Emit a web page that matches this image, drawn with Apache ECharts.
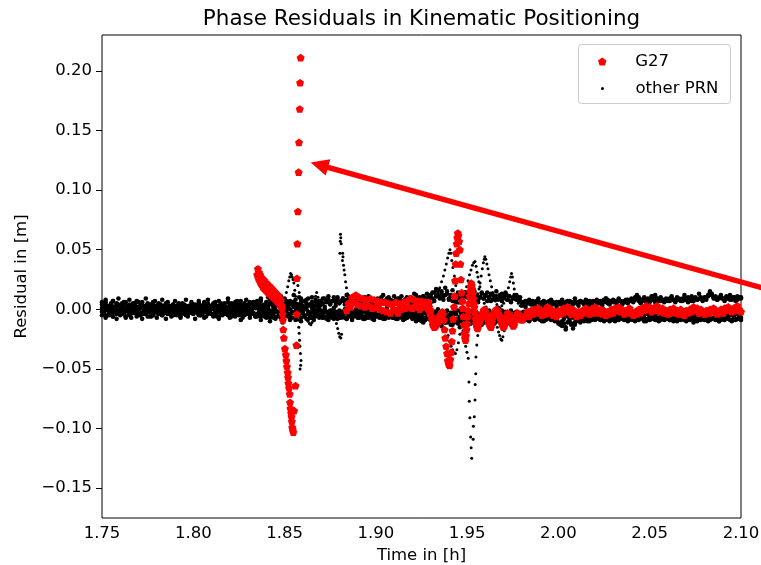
<!DOCTYPE html>
<html><head><meta charset="utf-8">
<script src="https://cdn.jsdelivr.net/npm/echarts@6/dist/echarts.min.js"></script>
<style>html,body{margin:0;padding:0;background:#fff}#c{width:761px;height:565px}</style>
</head><body><div id="c"></div>
<script>
// ---------- data (residuals in millimetres, time in hours) ----------
const T_START = 1.75, T_STEP = 0.001;           // epoch grid of the PRN tracks
const xTicks = [1.75, 1.80, 1.85, 1.90, 1.95, 2.00, 2.05, 2.10];
const yTicks = [-0.15, -0.10, -0.05, 0.00, 0.05, 0.10, 0.15, 0.20];

// other PRN, full-span tracks (351 epochs, 1.750 ... 2.100)
const prnA = [
 4,2,6,3,1,5,7,2,4,3, 0,5,3,6,2,4,1,3,5,2, 6,3,4,1,2,5,3,4,6,2, 3,1,4,2,3,5,2,3,1,4,
 2,3,5,1,2,4,3,2,3,1, 4,2,3,5,3,1,4,2,5,3, 2,4,6,3,2,5,3,4,2,6, 3,5,2,4,7,3,4,2,5,3, 4,6,3,5,2,
 5,3,7,2,4,6,3,8,4,2, 5,7,3,6,4,9,5,3,7,4, 6,8,4,10,6,3,7,5,9,4, 6,3,8,5,7,
 7,5,9,6,8,4,7,10,6,8, 5,7,9,6,8,11,7,5,8,6, 9,7,5,8,10,6,7,9,5,8, 6,8,7,10,5,7,9,6,8,7,
 11,8,6,9,7,5,8,10,7,6, 9,8,12,7,10,8,11,9,13,10,
 12,9,14,11,16,10,13,8,12,15, 9,11,7,10,6,9,12,8,11,14, 10,13,9,12,15,11,8,10,13,9,
 11,14,10,7,12,9,11,8,10,13, 9,12,8,11,7,10,9,12,8,10,
 6,5,7,6,5,6,4,5,7,6, 5,6,5,4,6,7,5,6,5,6, 5,6,7,5,6,5,7,6,5,6, 6,5,7,6,6,5,6,7,6,5,
 6,7,6,5,7,8,9,8,6,7, 6,7,6,8,7,6,7,6,8,7, 7,8,10,12,10,8,7,9,8,7, 6,8,11,12,9,8,7,8,7,8,
 8,7,9,8,7,8,9,8,7,8, 9,10,8,7,8,9,8,9,10,8, 9,10,12,14,12,10,9,8,9,10, 9,8,10,9,8,9,10,9,8,10,9
];
const prnB = [
 -2,-4,-1,-5,-3,0,-6,-2,-4,-3, -5,-1,-3,-6,-2,-4,-7,-3,-1,-4, -2,-5,-3,-1,-4,-6,-2,-3,-5,-1,
 -3,-4,-2,-5,-3,-1,-4,-2,-3,-5, -2,-3,-1,-4,-2,-3,-5,-2,-1,-3, -4,-2,-3,-5,-1,-4,-2,-6,-3,-1,
 -4,-5,-2,-3,-6,-1,-4,-3,-2,-5, -3,-6,-2,-4,-1,-5,-3,-7,-2,-4, -3,-5,-1,-4,-6,
 -4,-2,-6,-3,-5,-1,-4,-7,-3,-5, -2,-6,-4,-8,-3,-5,-2,-6,-4,-7, -3,-9,-5,-4,-7,-3,-6,-8,-4,-5, -7,-3,-6,-4,-5,
 -5,-7,-6,-8,-5,-6,-7,-4,-6,-8, -7,-5,-6,-7,-8,-6,-5,-7,-6,-4, -6,-7,-5,-8,-6,-7,-5,-6,-8,-7,
 -6,-5,-7,-6,-8,-5,-6,-7,-5,-6, -7,-8,-6,-5,-7,-6,-8,-7,-5,-6, -7,-6,-8,-9,-7,-10,-8,-9,-7,-8,
 -9,-7,-11,-8,-6,-10,-12,-8,-9,-7, -10,-13,-9,-11,-8,-12,-10,-7,-9,-11, -8,-10,-12,-9,-7,-11,-8,-10,-13,-9,
 -11,-8,-10,-7,-9,-12,-10,-8,-11,-9, -7,-10,-8,-11,-9,-8,-10,-7,-9,-8,
 -8,-7,-9,-8,-10,-8,-7,-9,-8,-7, -9,-8,-10,-9,-8,-7,-9,-8,-10,-9,
 -11,-13,-10,-12,-15,-11,-9,-12,-16,-13, -10,-9,-11,-8,-10,-9,-8,-10,-9,-8,
 -9,-8,-7,-9,-8,-10,-9,-8,-7,-9, -8,-10,-9,-8,-7,-8,-9,-8,-10,-9,
 -8,-9,-10,-8,-9,-7,-8,-10,-9,-8, -9,-8,-7,-9,-8,-10,-9,-8,-9,-7,
 -8,-9,-8,-10,-9,-8,-7,-9,-8,-9, -10,-8,-9,-7,-8,-9,-10,-8,-9,-8,
 -9,-8,-10,-9,-8,-7,-9,-8,-10,-9, -8,-9,-7,-8,-9,-10,-8,-9,-8,-7,-9
];
const prnC = [
 1,-2,3,0,-1,2,-3,1,0,4, -1,2,-2,0,3,-1,1,-3,2,0, -2,1,3,-1,0,2,-2,1,-1,3, 0,-2,1,2,-1,0,-3,1,2,-1,
 0,1,-2,2,0,-1,1,0,-2,1, 2,-1,0,1,-2,3,0,-1,2,-2, 1,0,3,-1,2,-3,1,0,-2,2, 0,3,-1,1,-2,4,0,2,-1,1, 3,0,-2,2,1,
 2,-1,4,0,3,-2,1,5,-1,2, 0,4,-2,3,1,-3,2,6,0,-2, 3,1,-4,2,5,-1,0,3,-2,4, 1,-1,3,0,2,
 -1,-3,0,-2,-4,-1,-3,1,-2,-4, -1,-2,-3,0,-2,-4,-1,-3,-2,0, -3,-1,-4,-2,-1,-3,0,-2,-4,-1,
 -2,-3,-1,0,-2,-4,-1,-3,-2,-1, -3,-2,0,-4,-1,-2,-3,-1,-2,-4, -2,-1,-3,-5,-2,-4,-1,-3,-2,-4,
 -3,-1,-5,-2,0,-4,-6,-2,-3,-1, -5,-3,-7,-2,-4,-1,-6,-3,-5,-2, -4,-6,-3,-1,-5,-2,-4,-7,-3,-5,
 -2,-4,-1,-3,-6,-2,-4,-5,-3,-1, -4,-2,-6,-3,-1,-5,-3,-2,-4,-3,
 -3,-2,-4,-3,-1,-2,-4,-3,-5,-2, -3,-4,-2,-3,-1,-4,-3,-2,-4,-3,
 -4,-2,-3,-5,-3,-2,-4,-3,-1,-3, -2,-4,-3,-2,-4,-3,-5,-2,-3,-4,
 -3,-2,-4,-1,-3,-2,-4,-3,-2,-3, -4,-2,-3,-5,-2,-3,-1,-3,-4,-2,
 -3,-4,-2,-3,-1,-3,-2,-4,-3,-2, -3,-1,-4,-2,-3,-2,-4,-3,-1,-3,
 -2,-4,-3,-2,-3,-5,-2,-3,-4,-2, -3,-2,-1,-3,-4,-2,-3,-2,-4,-3,
 -2,-3,-4,-2,-3,-1,-3,-2,-4,-3, -2,-3,-1,-4,-2,-3,-2,-4,-3,-2,-3
];
const prnD = [
 6,-3,8,2,-5,4,7,-2,5,9, -4,3,6,-6,1,8,-1,5,-3,7, 2,-5,6,0,9,-2,4,-6,3,7, -1,5,-4,8,2,-3,6,1,-5,4,
 7,-2,3,-6,5,0,8,-4,2,6, -3,4,-1,7,-5,3,6,-2,8,1, -4,5,2,-6,7,3,-1,5,-3,9, 0,4,-5,6,2,-2,7,-4,3,8, -1,5,-3,6,2,
 7,-4,9,1,-6,5,10,-3,6,-7, 3,8,-5,11,0,-4,7,2,-8,6, 12,-2,4,-6,9,1,-5,8,3,-7, 10,2,-4,6,-1,
 4,9,2,7,11,5,-1,8,3,10, 6,-2,9,4,12,1,7,5,-3,8, 3,10,6,0,9,4,11,2,7,-1,
 5,9,3,8,12,6,1,10,4,7, -2,6,9,3,11,5,8,0,7,10, 4,13,6,9,2,8,11,5,9,7,
 10,14,7,17,12,9,15,11,18,13, 8,12,16,10,6,14,9,12,7,11, 13,9,15,11,8,12,6,10,14,9,
 12,7,10,13,8,11,15,9,12,7, 10,14,8,11,6,9,12,8,10,7,
 3,6,2,5,8,4,7,3,6,9, 4,2,7,5,3,6,8,4,5,2, 6,4,8,3,5,7,2,6,4,9, 5,3,7,6,4,8,5,3,6,7,
 4,8,5,7,3,6,9,5,4,7, 8,6,5,9,7,4,6,8,5,7, 9,6,8,11,7,5,8,10,6,9, 7,11,8,6,9,7,10,8,6,9,
 7,9,11,8,6,10,8,7,9,12, 8,6,9,11,7,10,8,13,9,7, 10,8,11,15,13,9,11,8,10,12, 9,7,11,9,12,8,10,7,11,9,10
];
const prnE = [
 -5,2,-7,0,-3,4,-6,1,-8,-2, 3,-4,-1,-7,2,-5,0,-3,5,-6, -2,1,-8,-4,3,-1,-6,0,-3,2, -7,-2,4,-5,-1,-8,1,-3,-6,3,
 -2,-5,0,-7,2,-4,-1,-6,3,-3, 0,-8,-2,4,-5,-1,-7,1,-4,-2, 2,-6,-3,0,-8,3,-5,-1,-4,1, -7,-2,3,-6,-3,0,-9,-1,-5,2, -4,-7,0,-3,-6,
 -6,1,-9,-3,2,-7,-1,-10,-4,3, -8,-2,-5,1,-11,-6,0,-4,-9,-3, 2,-7,-5,-1,-10,-3,-6,0,-8,-4, -2,-9,-5,-1,-7,
 -4,-7,-2,-6,-9,-3,-5,-8,-4,-6, -2,-7,-5,-3,-8,-6,-4,-9,-5,-3, -7,-4,-6,-2,-8,-5,-7,-3,-6,-9,
 -4,-6,-3,-7,-5,-8,-2,-6,-4,-7, -5,-3,-8,-6,-4,-9,-5,-7,-3,-6, -8,-4,-10,-6,-9,-5,-11,-7,-4,-8,
 -6,-10,-4,-12,-8,-5,-14,-7,-3,-11, -9,-6,-13,-4,-10,-8,-15,-6,-11,-5, -9,-12,-7,-4,-10,-6,-13,-8,-5,-11,
 -7,-10,-4,-9,-12,-6,-8,-5,-11,-7, -9,-6,-12,-8,-5,-10,-7,-6,-9,-5,
 -4,-7,-2,-6,-9,-3,-5,-8,-1,-6, -4,-10,-3,-7,-5,-2,-8,-6,-4,-9,
 -12,-5,-14,-8,-17,-6,-10,-13,-7,-11, -4,-9,-6,-3,-8,-5,-10,-7,-4,-6,
 -3,-7,-5,-9,-2,-6,-8,-4,-10,-5, -7,-3,-6,-9,-4,-2,-7,-5,-8,-6,
 -4,-9,-3,-6,-8,-5,-2,-7,-10,-4, -6,-3,-8,-5,-9,-7,-4,-6,-2,-8,
 -5,-9,-3,-7,-6,-10,-4,-8,-2,-6, -9,-5,-7,-3,-11,-6,-4,-8,-5,-7,
 -3,-9,-6,-4,-8,-2,-7,-5,-10,-6, -4,-8,-3,-7,-5,-9,-6,-2,-8,-5,-7
];

// other PRN, short disturbed arcs [time h, residual mm]
const prnSpike = [[1.8440,2],[1.8452,-1],[1.8463,3],[1.8474,1],[1.8484,4],[1.8493,5],[1.8502,9],[1.8510,14],
 [1.8517,19],[1.8523,24],[1.8528,27],[1.8533,30],[1.8538,29],[1.8542,27],[1.8546,25],[1.8551,22],[1.8556,16],
 [1.8560,11],[1.8563,5],[1.8566,0],[1.8571,-5],[1.8575,-9],[1.8578,-15],[1.8580,-20],[1.8582,-26],[1.8584,-31],
 [1.8587,-37],[1.8590,-43],[1.8588,-47],[1.8585,-50]];
const prnVee = [[1.8566,26],[1.8573,20],[1.8580,14],[1.8588,8],[1.8596,3],[1.8604,-1],[1.8612,-5],[1.8620,-8],
 [1.8628,-10],[1.8636,-12],[1.8644,-13],[1.8650,-11],[1.8655,-6],[1.8660,0],[1.8665,6],[1.8670,11],[1.8676,14],
 [1.8683,10],[1.8690,6],[1.8698,3]];
const prnRise = [[1.8760,-2],[1.8768,-5],[1.8776,-8],[1.8784,-12],[1.8791,-16],[1.8797,-20],[1.8802,-23],
 [1.8808,-24],[1.8812,-21],[1.8806,63],[1.8808,60],[1.8805,57],[1.8810,55],[1.8803,47],[1.8818,47],[1.8820,44],
 [1.8817,41],[1.8823,37],[1.8826,33],[1.8830,29],[1.8834,23],[1.8839,18],[1.8845,13],[1.8852,9],[1.8860,6]];
const prnDive = [[1.9290,2],[1.9300,4],[1.9310,6],[1.9320,8],[1.9330,10],[1.9340,14],[1.9350,18],[1.9360,23],
 [1.9370,28],[1.9378,33],[1.9386,38],[1.9393,43],[1.9400,47],[1.9406,50],[1.9411,47],[1.9416,41],[1.9422,35],
 [1.9430,28],[1.9438,20],[1.9446,13],[1.9454,5],[1.9462,-3],[1.9470,-10],[1.9477,-18],[1.9485,-25],[1.9492,-31],
 [1.9499,-36],[1.9506,-41],[1.9510,-61],[1.9512,-77],[1.9515,-91],[1.9519,-107],[1.9522,-116],[1.9525,-125],
 [1.9533,-109],[1.9534,-98],[1.9539,-90],[1.9543,-76],[1.9544,-63],[1.9547,-54],[1.9548,-40],[1.9553,-30],
 [1.9558,-22],[1.9563,-16],[1.9570,-11],[1.9578,-7],[1.9586,-4]];
const prnHumpQ = [[1.9470,5],[1.9480,10],[1.9490,15],[1.9497,19],[1.9505,24],[1.9513,29],[1.9521,33],[1.9529,37],
 [1.9536,39],[1.9543,40],[1.9549,36],[1.9554,31],[1.9559,27],[1.9564,23],[1.9570,19],[1.9577,14],[1.9585,9],
 [1.9594,5],[1.9604,2]];
const prnHumpR = [[1.9530,2],[1.9540,5],[1.9550,9],[1.9558,13],[1.9565,17],[1.9571,22],[1.9577,28],[1.9583,34],
 [1.9589,39],[1.9594,42],[1.9597,44],[1.9602,42],[1.9608,38],[1.9614,34],[1.9620,29],[1.9627,24],[1.9634,19],
 [1.9641,14],[1.9648,10],[1.9655,7],[1.9663,4],[1.9672,2]];
const prnHumpS = [[1.9680,1],[1.9690,3],[1.9700,5],[1.9710,9],[1.9718,13],[1.9726,18],[1.9733,23],[1.9738,27],
 [1.9743,30],[1.9748,27],[1.9753,22],[1.9758,17],[1.9764,12],[1.9771,8],[1.9780,5],[1.9790,3]];
const prnSag = [[1.9360,-3],[1.9370,-7],[1.9380,-12],[1.9388,-17],[1.9396,-22],[1.9404,-27],[1.9412,-31],
 [1.9420,-34],[1.9428,-36],[1.9436,-37],[1.9444,-34],[1.9452,-28],[1.9460,-21],[1.9468,-14],[1.9476,-8],
 [1.9484,-4],[1.9494,-1]];
const prnDip = [[1.9640,-3],[1.9650,-7],[1.9658,-11],[1.9665,-15],[1.9672,-19],[1.9678,-22],[1.9684,-25],
 [1.9690,-26],[1.9696,-23],[1.9703,-18],[1.9710,-13],[1.9718,-8],[1.9727,-4],[1.9737,-2]];

// G27
const g27Drop = [[1.8350,29],[1.8354,34],[1.8357,26],[1.8360,31],[1.8363,24],[1.8366,29],[1.8369,22],[1.8372,27],
 [1.8375,21],[1.8378,26],[1.8381,19],[1.8384,25],[1.8387,18],[1.8390,24],[1.8393,17],[1.8396,22],[1.8399,16],
 [1.8402,22],[1.8405,15],[1.8408,20],[1.8411,14],[1.8414,20],[1.8417,13],[1.8420,19],[1.8423,13],[1.8426,18],
 [1.8429,12],[1.8432,17],[1.8435,11],[1.8438,16],[1.8441,10],[1.8444,15],[1.8447,9],[1.8450,14],[1.8453,8],
 [1.8456,13],[1.8459,7],[1.8462,12],[1.8465,6],[1.8468,11],[1.8471,5],[1.8474,9],[1.8477,4],[1.8480,8],
 [1.8483,3],[1.8486,1],[1.8489,-4],[1.8491,-9],[1.8493,-17],[1.8496,-24],[1.8502,-33],[1.8507,-38],[1.8510,-43],
 [1.8513,-48],[1.8517,-53],[1.8519,-57],[1.8521,-62],[1.8525,-66],[1.8528,-71],[1.8530,-78],[1.8532,-83],
 [1.8536,-87],[1.8538,-90],[1.8540,-94],[1.8542,-99],[1.8545,-101],[1.8548,-103],[1.8552,-85],[1.8560,-64],
 [1.8565,-30],[1.8567,-4],[1.8568,26],[1.8570,55],[1.8573,82],[1.8577,115],[1.8579,140],[1.8583,168],
 [1.8585,190],[1.8588,211]];
const g27MidStart = 1.884;   // epochs 1.884 ... 1.927
const g27Mid = [
 -1,5,2,10,6,12,4,10,3,9, 2,8,3,9,1,8,2,7,0,6, -1,6,-2,5,-3,4,0,6,-3,4, 0,6,1,7,2,9,1,8,3,7, 0,7,2,6
];
const g27Wave = [[1.9280,4],[1.9284,1],[1.9288,6],[1.9292,2],[1.9296,-3],[1.9300,-1],[1.9304,-6],[1.9308,-9],
 [1.9312,-13],[1.9316,-11],[1.9320,-15],[1.9324,-12],[1.9328,-14],[1.9332,-10],[1.9336,-12],[1.9340,-8],
 [1.9344,-10],[1.9348,-6],[1.9352,-8],[1.9356,-4],[1.9360,-5],[1.9364,-2],[1.9368,-4],[1.9372,-9],[1.9376,-17],
 [1.9380,-24],[1.9385,-31],[1.9390,-37],[1.9394,-43],[1.9399,-46],[1.9404,-47],[1.9408,-42],[1.9412,-36],
 [1.9416,-27],[1.9420,-18],[1.9424,-8],[1.9428,2],[1.9431,11],[1.9434,24],[1.9437,38],[1.9440,47],[1.9443,55],
 [1.9446,60],[1.9449,64],[1.9452,62],[1.9456,57],[1.9460,50],[1.9463,38],[1.9466,25],[1.9470,14],[1.9473,7],
 [1.9476,1],[1.9479,-6],[1.9482,-13],[1.9485,-20],[1.9488,-24],[1.9491,-26],[1.9494,-22],[1.9497,-17],
 [1.9500,-12],[1.9503,-6],[1.9506,-1],[1.9510,5],[1.9513,11],[1.9516,15],[1.9519,19],[1.9522,22],[1.9525,20],
 [1.9528,17],[1.9531,13],[1.9534,9],[1.9537,5],[1.9540,2],[1.9543,-3],[1.9546,-8],[1.9549,-12],[1.9553,-15],
 [1.9558,-16],[1.9563,-13],[1.9568,-11],[1.9572,-9],[1.9576,-7],[1.9580,-5],[1.9585,-3],[1.9590,-1],[1.9595,0],
 [1.9600,-2],[1.9605,-4],[1.9610,-6],[1.9615,-9],[1.9620,-12],[1.9625,-14],[1.9631,-15],[1.9636,-11],[1.9641,-7],
 [1.9645,-4],[1.9650,-3],[1.9655,-1],[1.9660,0],[1.9665,-1],[1.9670,-3],[1.9675,-5],[1.9680,-7],[1.9686,-10],
 [1.9692,-13],[1.9698,-15],[1.9704,-14],[1.9710,-10],[1.9716,-6],[1.9722,-3],[1.9728,-4],[1.9734,-6],[1.9740,-9],
 [1.9746,-12],[1.9752,-14],[1.9758,-13],[1.9764,-9],[1.9770,-5],[1.9776,-3],[1.9782,-4],[1.9788,-6],[1.9794,-8],
 [1.9800,-9],[1.9806,-8],[1.9812,-6]];
const g27TailStart = 1.982;  // epochs 1.982 ... 2.100
const g27Tail = [
 -5,-2,-6,-1,-4,0,-3,1,-2,-5, -1,-4,2,-3,0,-5,-2,-6,-1,-4, -3,1,-2,2,-1,-4,0,-3,-6,-2,
 -5,-1,-3,1,-2,-4,0,-3,2,-1, -3,0,-4,-1,-5,-2,-4,0,-3,1, -1,2,-2,0,-4,-1,-3,1,-2,-5,
 -2,-4,0,-3,1,-1,3,0,2,-2, 1,-1,3,0,-2,1,-3,-1,-4,0, -2,1,-3,-1,-4,0,-2,-5,-1,-3,
 0,-2,2,-1,1,-3,0,-2,-4,-1, -3,0,-2,1,-1,-4,-2,0,-3,1, -1,2,0,-2,1,-1,3,0,-2
];

// annotation arrow (data coordinates)
const arrowTip = [1.8643, 0.123];
const arrowTail = [2.125, 0.0123];

// ---------- build ----------
const onGrid = (start, mm) => mm.map((v, k) => [+(start + k * T_STEP).toFixed(4), v / 1000]);
const fromPairs = p => p.map(([t, v]) => [t, v / 1000]);

const bandData = [].concat(
  onGrid(T_START, prnA), onGrid(T_START, prnB), onGrid(T_START, prnC),
  onGrid(T_START, prnD), onGrid(T_START, prnE)
);
const arcData = [].concat(
  fromPairs(prnSpike), fromPairs(prnVee), fromPairs(prnRise), fromPairs(prnDive),
  fromPairs(prnHumpQ), fromPairs(prnHumpR), fromPairs(prnHumpS), fromPairs(prnSag), fromPairs(prnDip)
);
const g27Data = [].concat(
  fromPairs(g27Drop), onGrid(g27MidStart, g27Mid), fromPairs(g27Wave), onGrid(g27TailStart, g27Tail)
);

const FONT = 'DejaVu Sans';
const PENTAGON = 'path://M0,-10L9.511,-3.09L5.878,8.09L-5.878,8.09L-9.511,-3.09Z';
const fmtY = v => (v < -1e-9 ? '\u2212' : '') + Math.abs(v).toFixed(2);

const chart = echarts.init(document.getElementById('c'), null, {renderer: 'canvas'});
const legendBox = {type: 'rect', left: 578, top: 44, z: 1,
  shape: {width: 152, height: 59, r: 3},
  style: {fill: 'rgba(255,255,255,0.8)', stroke: '#cccccc', lineWidth: 1}};
chart.setOption({
  animation: false,
  backgroundColor: '#fff',
  title: {
    text: 'Phase Residuals in Kinematic Positioning',
    left: 421.5, top: 8, padding: 0, textAlign: 'center',
    textStyle: {fontFamily: FONT, fontSize: 21.5, fontWeight: 'normal', color: '#000'}
  },
  grid: {left: 102, right: 20, top: 35, bottom: 47, show: true, borderColor: '#000', borderWidth: 1,
         backgroundColor: 'transparent', containLabel: false, outerBoundsMode: 'none'},
  xAxis: {
    type: 'value', min: 1.75, max: 2.10,
    name: 'Time in [h]', nameLocation: 'middle', nameGap: 23,
    nameTextStyle: {fontFamily: FONT, fontSize: 16.5, color: '#000'},
    axisLine: {show: false},
    axisTick: {show: true, length: 6, lineStyle: {color: '#000', width: 1}, customValues: xTicks},
    axisLabel: {fontFamily: FONT, fontSize: 16.5, color: '#000', margin: 7,
                customValues: xTicks, formatter: v => v.toFixed(2)},
    splitLine: {show: false}
  },
  yAxis: {
    type: 'value', min: -0.175, max: 0.23,
    name: 'Residual in [m]', nameLocation: 'middle', nameGap: 72,
    nameTextStyle: {fontFamily: FONT, fontSize: 16.5, color: '#000'},
    axisLine: {show: false},
    axisTick: {show: true, length: 6, lineStyle: {color: '#000', width: 1}, customValues: yTicks},
    axisLabel: {fontFamily: FONT, fontSize: 16.5, color: '#000', margin: 10,
                customValues: yTicks, formatter: fmtY},
    splitLine: {show: false}
  },
  legend: [
    {data: ['G27'], left: 598, top: 53, padding: 0, itemWidth: 56, itemHeight: 8, selectedMode: false,
     textStyle: {fontFamily: FONT, fontSize: 16.5, color: '#000'}},
    {data: ['other PRN'], left: 601, top: 80, padding: 0, itemWidth: 56, itemHeight: 3, selectedMode: false,
     textStyle: {fontFamily: FONT, fontSize: 16.5, color: '#000'}}
  ],
  series: [
    {name: 'other PRN', type: 'scatter', data: bandData, symbol: 'circle', symbolSize: 4.6,
     itemStyle: {color: '#000', opacity: 1}, large: false, progressive: 0, z: 2, silent: true},
    {name: 'other PRN', type: 'scatter', data: arcData, symbol: 'circle', symbolSize: 3,
     itemStyle: {color: '#000', opacity: 1}, large: false, progressive: 0, z: 2, silent: true},
    {name: 'G27', type: 'scatter', data: g27Data, symbol: PENTAGON, symbolSize: 8, symbolKeepAspect: true,
     itemStyle: {color: '#ff0000', opacity: 1}, large: false, progressive: 0, z: 3, silent: true}
  ],
  graphic: [legendBox]
});

// arrow annotation placed through the grid's data->pixel conversion
const tip = chart.convertToPixel({gridIndex: 0}, arrowTip);
const tail = chart.convertToPixel({gridIndex: 0}, arrowTail);
const dx = tail[0] - tip[0], dy = tail[1] - tip[1], L = Math.hypot(dx, dy);
const ux = dx / L, uy = dy / L, headLen = 18, headHalf = 8.5;
const base = [tip[0] + ux * headLen, tip[1] + uy * headLen];
chart.setOption({
  graphic: [
    legendBox,
    {type: 'line', z: 100, shape: {x1: base[0] - ux * 2, y1: base[1] - uy * 2, x2: tail[0], y2: tail[1]},
     style: {stroke: '#ff0000', lineWidth: 5.5}},
    {type: 'polygon', z: 100,
     shape: {points: [tip, [base[0] - uy * headHalf, base[1] + ux * headHalf],
                           [base[0] + uy * headHalf, base[1] - ux * headHalf]]},
     style: {fill: '#ff0000'}}
  ]
});
</script>
</body></html>
